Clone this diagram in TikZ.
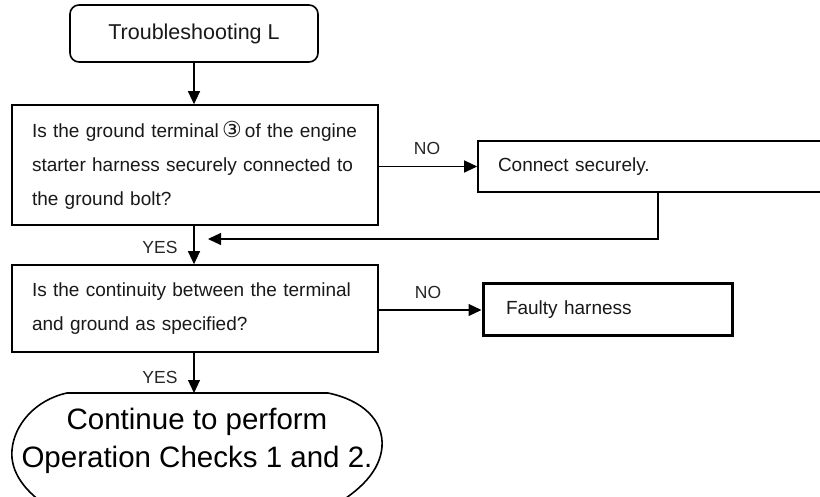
\documentclass[tikz,border=0pt]{standalone}
\usepackage{fontspec}
\setmainfont{Liberation Sans}
\newfontfamily\dejavu{DejaVu Sans}
\usetikzlibrary{arrows.meta}
\begin{document}
\begin{tikzpicture}[x=1pt,y=-1pt,
  boxtext/.style={font=\fontsize{19}{34}\selectfont, text=black!90},
  qbox/.style={draw, line width=1.6pt, boxtext, align=left, inner xsep=20pt, inner ysep=0pt,
    text width=326pt, minimum width=366pt},
  abox/.style={draw, line width=1.6pt, boxtext, align=left, inner ysep=0pt},
  arr/.style={line width=1.2pt, -{Triangle[length=13pt,width=12pt]}},
  lbl/.style={font=\fontsize{17.5}{17.5}\selectfont, text=black!85, inner sep=0pt}]
\clip (0,0) rectangle (820,497);
\fill[white] (0,0) rectangle (820,497);

% title
\node[draw, line width=1.6pt, rounded corners=9pt, minimum width=248pt, minimum height=57pt,
  font=\fontsize{21.5}{21.5}\selectfont, text=black!90] (title) at (194,33.5) {Troubleshooting L};

% question 1
\node[qbox, minimum height=120pt] (q1) at (195,165)
  {Is the ground terminal\,{\dejavu\fontsize{22}{22}\selectfont ③}\,of the engine\\
   starter harness securely connected to\\
   the ground bolt?};

% connect securely
\node[abox, minimum height=51pt, minimum width=360pt, text width=320pt, inner xsep=20pt] (conn) at (658,166.5)
  {Connect securely.};

% question 2
\node[qbox, minimum height=87pt] (q2) at (195,308.5)
  {Is the continuity between the terminal\\
   and ground as specified?};

% faulty harness
\node[draw, line width=3pt, boxtext, align=left, inner ysep=0pt, minimum height=52pt,
  minimum width=249pt, text width=203pt, inner xsep=23pt] (faulty) at (607.5,310)
  {Faulty harness};

% end terminator
\draw[line width=1.6pt] (67,393) -- (328,393)
  .. controls (362,400) and (384,420) .. (382,447)
  .. controls (380,470) and (362,490) .. (330,508)
  -- (50,508)
  .. controls (25,492) and (10,472) .. (12,450)
  .. controls (14,425) and (35,400) .. (67,393) -- cycle;
\coordinate (endtop) at (194,393);
\node[font=\fontsize{29.5}{38}\selectfont, align=center, inner sep=0pt] (endtext) at (197,441)
  {Continue to perform\\Operation Checks 1 and 2.};

% connectors
\draw[arr] (title.south) -- (title.south |- q1.north);
\draw[arr] (q1.east |- conn.west) -- (conn.west);
\coordinate (ret) at (208,239);
\draw[arr] (conn.south) |- (ret);
\draw[arr] (q1.south -| title.south) -- (q2.north -| title.south);
\draw[arr] (q2.east |- faulty.west) -- (faulty.west);
\draw[arr] (q2.south -| title.south) -- (endtop -| title.south);

% labels
\node[lbl] (no1) at (427,148) {NO};
\node[lbl] (no2) at (428,292) {NO};
\node[lbl] (yes1) at (160,247) {YES};
\node[lbl] (yes2) at (160,377) {YES};
\end{tikzpicture}
\end{document}
